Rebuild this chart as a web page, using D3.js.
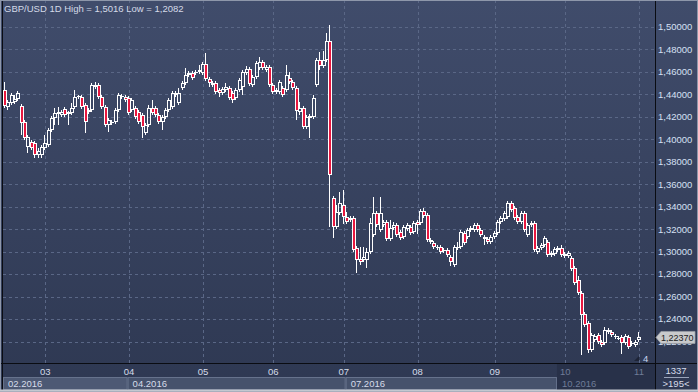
<!DOCTYPE html>
<html><head><meta charset="utf-8">
<script src="https://cdn.jsdelivr.net/npm/d3@7"></script>
<style>html,body{margin:0;padding:0;background:#2e3850;overflow:hidden}svg{display:block}</style>
</head><body><div id="chart"></div>
<script>
// ---- data (GBP/USD daily, trading-day index 0..189) ----
const openV = [
1.4439,1.4288,1.4323,1.4332,1.4359,1.4297,1.4154,1.3932,1.3976,1.3967,
1.3861,1.3861,1.3923,1.3950,1.4083,1.4190,1.4225,1.4217,1.4270,1.4225,
1.4234,1.4288,1.4377,1.4377,1.4306,1.4243,1.4261,1.4466,1.4484,1.4377,
1.4288,1.4128,1.4145,1.4154,1.4261,1.4377,1.4377,1.4368,1.4261,1.4279,
1.4243,1.4217,1.4056,1.4128,1.4279,1.4279,1.4217,1.4154,1.4199,1.4261,
1.4288,1.4395,1.4323,1.4457,1.4501,1.4573,1.4590,1.4590,1.4599,1.4590,
1.4670,1.4537,1.4501,1.4501,1.4439,1.4412,1.4439,1.4457,1.4412,1.4368,
1.4439,1.4466,1.4590,1.4626,1.4484,1.4555,1.4635,1.4688,1.4617,1.4644,
1.4484,1.4421,1.4421,1.4457,1.4439,1.4546,1.4510,1.4457,1.4243,1.4279,
1.4110,1.4190,1.4199,1.4484,1.4706,1.4653,1.4706,1.4875,1.3478,1.3220,
1.3344,1.3416,1.3309,1.3282,1.3300,1.3033,1.2935,1.2926,1.2926,1.2997,
1.3149,1.3344,1.3193,1.3238,1.3264,1.3113,1.3211,1.3238,1.3175,1.3131,
1.3202,1.3220,1.3175,1.3264,1.3255,1.3362,1.3327,1.3104,1.3077,1.3042,
1.3042,1.3006,1.3015,1.2953,1.2882,1.3033,1.3042,1.3166,1.3131,1.3193,
1.3193,1.3238,1.3193,1.3113,1.3113,1.3086,1.3131,1.3166,1.3264,1.3291,
1.3309,1.3433,1.3389,1.3309,1.3264,1.3344,1.3149,1.3238,1.3255,1.2997,
1.3033,1.3060,1.3086,1.2971,1.2979,1.3015,1.3033,1.2979,1.2962,1.2944,
1.2855,1.2748,1.2632,1.2445,1.2365,1.2125,1.2214,1.2258,1.2196,1.2187,
1.2285,1.2285,1.2241,1.2223,1.2241,1.2187,1.2241,1.2178,1.2170,1.2214];
const highV = [
1.4510,1.4350,1.4412,1.4395,1.4430,1.4314,1.4172,1.4039,1.3994,1.3985,
1.3923,1.3950,1.4039,1.4101,1.4208,1.4279,1.4288,1.4261,1.4288,1.4252,
1.4323,1.4439,1.4395,1.4395,1.4323,1.4279,1.4501,1.4510,1.4501,1.4395,
1.4306,1.4190,1.4172,1.4279,1.4412,1.4403,1.4395,1.4386,1.4368,1.4297,
1.4261,1.4234,1.4145,1.4306,1.4350,1.4297,1.4234,1.4217,1.4279,1.4368,
1.4430,1.4430,1.4457,1.4519,1.4635,1.4608,1.4608,1.4617,1.4662,1.4688,
1.4768,1.4555,1.4519,1.4519,1.4457,1.4466,1.4501,1.4475,1.4430,1.4457,
1.4546,1.4617,1.4653,1.4644,1.4573,1.4697,1.4733,1.4706,1.4662,1.4662,
1.4501,1.4457,1.4528,1.4475,1.4662,1.4599,1.4528,1.4475,1.4332,1.4297,
1.4217,1.4225,1.4395,1.4724,1.4777,1.4786,1.4946,1.5016,1.3496,1.3416,
1.3531,1.3549,1.3353,1.3318,1.3318,1.3051,1.3042,1.3042,1.3033,1.3300,
1.3487,1.3362,1.3487,1.3282,1.3282,1.3282,1.3264,1.3255,1.3193,1.3238,
1.3255,1.3238,1.3273,1.3282,1.3380,1.3389,1.3344,1.3122,1.3095,1.3060,
1.3060,1.3033,1.3033,1.2971,1.3060,1.3086,1.3193,1.3184,1.3211,1.3229,
1.3255,1.3255,1.3211,1.3149,1.3131,1.3149,1.3184,1.3282,1.3318,1.3362,
1.3451,1.3451,1.3407,1.3327,1.3362,1.3362,1.3255,1.3273,1.3273,1.3051,
1.3077,1.3140,1.3104,1.3006,1.3042,1.3051,1.3060,1.2997,1.3006,1.2962,
1.2873,1.2784,1.2650,1.2463,1.2383,1.2276,1.2267,1.2276,1.2214,1.2330,
1.2321,1.2303,1.2267,1.2250,1.2258,1.2267,1.2258,1.2205,1.2214,1.2285];
const lowV = [
1.4279,1.4261,1.4306,1.4314,1.4341,1.4039,1.3994,1.3878,1.3905,1.3834,
1.3834,1.3834,1.3905,1.3932,1.4065,1.4128,1.4128,1.4199,1.4199,1.4128,
1.4217,1.4270,1.4359,1.4270,1.4056,1.4225,1.4243,1.4448,1.4359,1.4270,
1.4110,1.4065,1.4128,1.4136,1.4243,1.4359,1.4332,1.4217,1.4243,1.4181,
1.4136,1.4012,1.4039,1.4110,1.4217,1.4199,1.4136,1.4083,1.4181,1.4243,
1.4270,1.4377,1.4306,1.4439,1.4484,1.4555,1.4528,1.4573,1.4581,1.4573,
1.4519,1.4466,1.4466,1.4403,1.4377,1.4395,1.4421,1.4350,1.4323,1.4350,
1.4421,1.4395,1.4573,1.4475,1.4466,1.4537,1.4617,1.4617,1.4599,1.4466,
1.4403,1.4403,1.4403,1.4377,1.4421,1.4492,1.4439,1.4172,1.4217,1.4092,
1.4092,1.4012,1.4181,1.4466,1.4617,1.4635,1.4688,1.3220,1.3122,1.3202,
1.3327,1.3246,1.3246,1.3264,1.2997,1.2810,1.2882,1.2908,1.2855,1.2979,
1.3131,1.3220,1.3175,1.3220,1.3095,1.3095,1.3193,1.3131,1.3104,1.3113,
1.3184,1.3149,1.3157,1.3157,1.3238,1.3300,1.3086,1.3068,1.3024,1.3015,
1.2979,1.2988,1.2953,1.2873,1.2864,1.3015,1.3024,1.3060,1.3113,1.3175,
1.3175,1.3175,1.3131,1.3060,1.3068,1.3068,1.3113,1.3149,1.3246,1.3273,
1.3291,1.3353,1.3282,1.3246,1.3246,1.3175,1.3131,1.3220,1.2997,1.2979,
1.3015,1.3042,1.2953,1.2953,1.2962,1.2997,1.2953,1.2944,1.2944,1.2828,
1.2704,1.2615,1.2082,1.2330,1.2098,1.2107,1.2196,1.2178,1.2152,1.2170,
1.2267,1.2241,1.2223,1.2214,1.2090,1.2170,1.2134,1.2161,1.2152,1.2196];
const closeV = [
1.4297,1.4332,1.4395,1.4359,1.4412,1.4145,1.4012,1.4021,1.3923,1.3861,
1.3896,1.3932,1.3967,1.4083,1.4190,1.4234,1.4243,1.4243,1.4217,1.4243,
1.4279,1.4377,1.4386,1.4288,1.4154,1.4261,1.4484,1.4484,1.4377,1.4288,
1.4128,1.4172,1.4154,1.4261,1.4395,1.4386,1.4350,1.4234,1.4350,1.4199,
1.4154,1.4110,1.4128,1.4279,1.4234,1.4217,1.4154,1.4199,1.4261,1.4350,
1.4412,1.4412,1.4412,1.4501,1.4573,1.4590,1.4546,1.4599,1.4617,1.4670,
1.4537,1.4501,1.4484,1.4421,1.4412,1.4448,1.4466,1.4368,1.4350,1.4439,
1.4528,1.4599,1.4626,1.4492,1.4555,1.4679,1.4688,1.4635,1.4644,1.4484,
1.4421,1.4439,1.4510,1.4395,1.4573,1.4510,1.4457,1.4252,1.4279,1.4110,
1.4199,1.4208,1.4368,1.4706,1.4653,1.4706,1.4875,1.3683,1.3220,1.3353,
1.3433,1.3309,1.3264,1.3300,1.3015,1.2926,1.2908,1.2953,1.2997,1.3255,
1.3344,1.3238,1.3344,1.3264,1.3113,1.3211,1.3238,1.3149,1.3122,1.3220,
1.3238,1.3166,1.3255,1.3238,1.3362,1.3318,1.3104,1.3086,1.3042,1.3033,
1.2997,1.3015,1.2971,1.2908,1.3042,1.3042,1.3175,1.3077,1.3193,1.3211,
1.3238,1.3193,1.3149,1.3131,1.3086,1.3131,1.3166,1.3264,1.3300,1.3344,
1.3433,1.3371,1.3300,1.3264,1.3344,1.3193,1.3238,1.3255,1.3015,1.3033,
1.3060,1.3122,1.2971,1.2988,1.3024,1.3033,1.2971,1.2962,1.2988,1.2846,
1.2721,1.2632,1.2437,1.2348,1.2125,1.2258,1.2250,1.2196,1.2170,1.2303,
1.2303,1.2258,1.2250,1.2232,1.2187,1.2250,1.2152,1.2187,1.2196,1.2237];

const priceTicks = [1.22,1.24,1.26,1.28,1.30,1.32,1.34,1.36,1.38,1.40,1.42,1.44,1.46,1.48,1.50];
const monthLabels = ["03","04","05","06","07","08","09","10","11"];
const monthIndex  = [12,37,59,80,101,123,146,167,189];
const periodLabels = ["02.2016","04.2016","07.2016","10.2016"];
const periodIndex  = [0,37,102,165];
const titleText = "GBP/USD 1D High = 1,5016 Low = 1,2082";
const lastPrice = 1.2237;

// ---- drawing ----
const W = 698, H = 392;
const plotR = 655, plotB = 363;
const svg = d3.select("#chart").append("svg").attr("width", W).attr("height", H)
  .style("font-family", "'Liberation Sans', Arial, sans-serif");

const defs = svg.append("defs");
const g1 = defs.append("linearGradient").attr("id","bg").attr("x1",0).attr("y1",0).attr("x2",0).attr("y2",1);
g1.append("stop").attr("offset","0%").attr("stop-color","#404c6b");
g1.append("stop").attr("offset","100%").attr("stop-color","#2e3852");
svg.append("rect").attr("width",W).attr("height",H).attr("fill","url(#bg)");

const data = openV.map((o,i)=>({i, o, h:highV[i], l:lowV[i], c:closeV[i]}));
const x = d3.scaleLinear().domain([0,189]).range([5,639]);
const y = d3.scaleLinear().domain([1.2,1.5]).range([364.05,27]);

// grid
const grid = svg.append("g").attr("stroke","#5a6786").attr("stroke-dasharray","3,3").attr("stroke-width",1);
grid.selectAll("line.h").data(priceTicks).join("line").attr("class","h")
  .attr("x1",3).attr("x2",plotR).attr("y1",d=>Math.round(y(d))+0.5).attr("y2",d=>Math.round(y(d))+0.5);
grid.selectAll("line.v").data(monthIndex).join("line").attr("class","v")
  .attr("x1",d=>Math.round(x(d))+0.5).attr("x2",d=>Math.round(x(d))+0.5).attr("y1",0).attr("y2",plotB);

// candles
const cg = svg.append("g").attr("shape-rendering","crispEdges");
const cand = cg.selectAll("g").data(data).join("g");
cand.each(function(d){
  const gx = d3.select(this);
  const px = Math.round(x(d.i));
  const top = Math.round(y(Math.max(d.o,d.c))), bot = Math.round(y(Math.min(d.o,d.c)));
  const yh = Math.round(y(d.h)), yl = Math.round(y(d.l));
  const wx = px - 0.5;
  if (yh < top) gx.append("line").attr("x1",wx).attr("x2",wx).attr("y1",yh).attr("y2",top).attr("stroke","#ffffff");
  if (yl > bot) gx.append("line").attr("x1",wx).attr("x2",wx).attr("y1",bot).attr("y2",yl).attr("stroke","#ffffff");
  gx.append("rect").attr("x",px-1.5).attr("y",top+0.5).attr("width",3).attr("height",Math.max(bot-top-1,0.01))
    .attr("fill", d.c < d.o ? "#e8173f" : "none").attr("stroke","#ffffff").attr("stroke-width",1);
});

// frame lines
svg.append("line").attr("x1",plotR+0.5).attr("x2",plotR+0.5).attr("y1",0).attr("y2",H).attr("stroke","#0a0c12");
svg.append("line").attr("x1",0).attr("x2",W).attr("y1",plotB+0.5).attr("y2",plotB+0.5).attr("stroke","#0a0c12");
svg.append("line").attr("x1",2.5).attr("x2",2.5).attr("y1",0).attr("y2",H).attr("stroke","#0a0c12");

// title
svg.append("text").attr("x",4).attr("y",12).attr("font-size",9.5).attr("fill","#d4dae8").text(titleText);

// right axis labels
const fmt = v => v.toFixed(5).replace(".", ",");
svg.append("g").selectAll("text").data(priceTicks).join("text")
  .attr("x",658).attr("y",d=>y(d)).attr("dy","0.35em").attr("font-size",9.5).attr("fill","#d6e0f4")
  .text(fmt);

// last price marker
const ly = y(lastPrice);
svg.append("path").attr("d",`M656,${ly} L661,${ly-6} L695,${ly-6} L695,${ly+6} L661,${ly+6} Z`)
  .attr("fill","#c9cacc").attr("stroke","#9a9ea6").attr("stroke-width",0.8);
svg.append("text").attr("x",661).attr("y",ly).attr("dy","0.35em").attr("font-size",9).attr("fill","#202020").text(fmt(lastPrice));

// bottom strip: period blocks
const bottom = svg.append("g");
const pEnds = periodIndex.slice(1).map(i=>x(i)-1.5).concat([plotR]);
periodIndex.forEach((pi,k)=>{
  const x0 = k===0 ? 3 : x(pi)-1.5, x1 = pEnds[k];
  const last = k===periodIndex.length-1;
  bottom.append("rect").attr("x",x0+0.5).attr("y",377.5).attr("width",x1-x0-1).attr("height",12)
    .attr("fill", k===0 ? "#4d5974" : (last ? "#283149" : "#46526c"))
    .attr("stroke", last ? "#283149" : "#66728c").attr("stroke-width",1);
  bottom.append("text").attr("x",x0+5).attr("y",387).attr("font-size",9.5)
    .attr("fill", last ? "#6f7c98" : "#d6dcea").text(periodLabels[k]);
});
bottom.append("rect").attr("x",x(periodIndex[3])-1.5).attr("y",plotB+1).attr("width",plotR-x(periodIndex[3])+1.5).attr("height",14)
  .attr("fill","#283149");
bottom.selectAll("text.m").data(monthLabels).join("text").attr("class","m")
  .attr("x",(d,k)=>x(monthIndex[k])).attr("y",375).attr("text-anchor","middle").attr("font-size",9.5)
  .attr("fill",(d,k)=> monthIndex[k] >= periodIndex[3] ? "#6f7c98" : "#d6dcea").text(d=>d);

// small scroll marker
svg.append("path").attr("d","M634,361 L639,356 L639,361 Z").attr("fill","#1e2436");
svg.append("text").attr("x",643).attr("y",362).attr("font-size",9.5).attr("fill","#c8d6f0").text("4");

// right bottom info
svg.append("text").attr("x",676).attr("y",374).attr("text-anchor","middle").attr("font-size",9.5).attr("fill","#d6dcea").text("1337");
svg.append("line").attr("x1",664).attr("x2",689).attr("y1",377.5).attr("y2",377.5).attr("stroke","#9aa4ba");
svg.append("text").attr("x",676).attr("y",387).attr("text-anchor","middle").attr("font-size",9.5).attr("fill","#d6dcea").text(">195<");

// outer frame
svg.append("rect").attr("x",0.5).attr("y",0.5).attr("width",W-1).attr("height",H-1).attr("fill","none").attr("stroke","#8e97aa");
svg.append("line").attr("x1",0).attr("x2",W).attr("y1",H-1.5).attr("y2",H-1.5).attr("stroke","#c4c8d0").attr("stroke-width",2);
</script></body></html>
